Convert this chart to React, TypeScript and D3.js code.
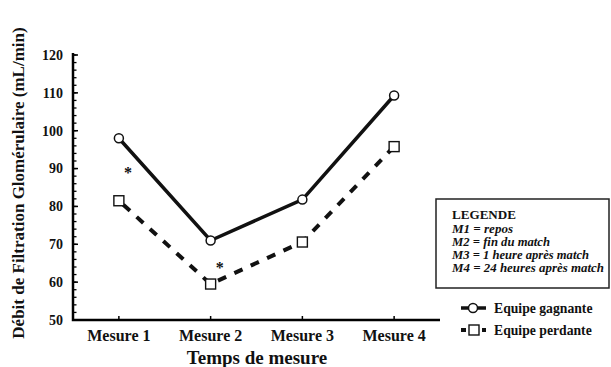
import React from "react";
import * as d3 from "d3";

const categories = ["Mesure 1", "Mesure 2", "Mesure 3", "Mesure 4"];
const gagnante = [98, 71, 81.8, 109.3];
const perdante = [81.5, 59.5, 70.6, 95.8];
const yTicks = [50, 60, 70, 80, 90, 100, 110, 120];
const minorTicks = d3.range(50, 121, 2);
const asterisks = [
  { cat: "Mesure 1", value: 90.5 },
  { cat: "Mesure 2", value: 65.5 },
];
const legendLines = [
  "M1 = repos",
  "M2 = fin du match",
  "M3 = 1 heure après match",
  "M4 = 24 heures après match",
];
const legendWidths = [61, 98, 137, 152];

const W = 611;
const H = 367;
const left = 73;
const right = 440;
const top = 55;
const bottom = 320;
const font = "'Liberation Serif', 'Times New Roman', serif";

export default function App() {
  const x = d3.scaleBand<string>().domain(categories).range([left, right]);
  const cx = (c: string) => (x(c) as number) + x.bandwidth() / 2;
  const y = d3.scaleLinear().domain([50, 120]).range([bottom, top]);
  const line = d3
    .line<number>()
    .x((_, i) => cx(categories[i]))
    .y((d) => y(d));

  return (
    <svg
      width={W}
      height={H}
      style={{ position: "absolute", left: 0, top: 0, background: "#fff" }}
      fontFamily={font}
    >
      <rect width={W} height={H} fill="#fff" />
      {minorTicks.map((t) => (
        <line key={"m" + t} x1={left} x2={left + 3.5} y1={y(t)} y2={y(t)} stroke="#000" strokeWidth={1.3} />
      ))}
      {yTicks.map((t) => (
        <g key={t}>
          <line x1={left} x2={left + 5} y1={y(t)} y2={y(t)} stroke="#000" strokeWidth={1.5} />
          <text x={left - 10} y={y(t)} dy="0.35em" textAnchor="end" fontSize={14} fontWeight="bold" fill="#111">
            {t}
          </text>
        </g>
      ))}
      {categories.map((c) => (
        <g key={c}>
          <line x1={cx(c)} x2={cx(c)} y1={bottom} y2={bottom - 4} stroke="#000" strokeWidth={1.5} />
          <text x={cx(c)} y={bottom + 21} textAnchor="middle" fontSize={16} fontWeight="bold" fill="#111">
            {c}
          </text>
        </g>
      ))}
      <path d={`M${left},${top - 2}V${bottom}H${right}`} fill="none" stroke="#000" strokeWidth={2.5} />
      <text x={257} y={364} textAnchor="middle" fontSize={19} fontWeight="bold" fill="#111">
        Temps de mesure
      </text>
      <text
        transform={`translate(24,183) rotate(-90)`}
        textAnchor="middle"
        fontSize={17}
        fontWeight="bold"
        fill="#111"
      >
        Débit de Filtration Glomérulaire (mL/min)
      </text>

      <path d={line(perdante) || ""} fill="none" stroke="#111" strokeWidth={4} strokeDasharray="9,9" strokeDashoffset={-6} />
      <path d={line(gagnante) || ""} fill="none" stroke="#111" strokeWidth={3.5} />
      {gagnante.map((v, i) => (
        <circle key={"g" + i} cx={cx(categories[i])} cy={y(v)} r={4.5} fill="#fff" stroke="#111" strokeWidth={1.5} />
      ))}
      {perdante.map((v, i) => (
        <rect
          key={"p" + i}
          x={cx(categories[i]) - 5}
          y={y(v) - 5}
          width={10}
          height={10}
          fill="#fff"
          stroke="#111"
          strokeWidth={1.4}
        />
      ))}
      {asterisks.map((a, i) => (
        <text key={"a" + i} x={cx(a.cat) + 9} y={y(a.value)} dy="0.7em" textAnchor="middle" fontSize={16} fontWeight="bold" fill="#111">
          *
        </text>
      ))}

      <rect x={436} y={199} width={173} height={89} fill="#fff" stroke="#222" strokeWidth={1.5} />
      <text x={452} y={219} fontSize={12} fontWeight="bold" fill="#111" textLength={64} lengthAdjust="spacingAndGlyphs">
        LEGENDE
      </text>
      {legendLines.map((l, i) => (
        <text
          key={l}
          x={452}
          y={232.5 + i * 13}
          fontSize={11.7}
          fontWeight="bold"
          fontStyle="italic"
          fill="#111"
          textLength={legendWidths[i]}
          lengthAdjust="spacingAndGlyphs"
        >
          {l}
        </text>
      ))}
      <g>
        <line x1={461} x2={486} y1={308} y2={308} stroke="#111" strokeWidth={3.5} />
        <circle cx={473} cy={308} r={4.5} fill="#fff" stroke="#111" strokeWidth={1.5} />
        <text x={494} y={308} dy="0.35em" fontSize={13.7} fontWeight="bold" fill="#111">
          Equipe gagnante
        </text>
        <line x1={461} x2={466} y1={330} y2={330} stroke="#111" strokeWidth={4} />
        <rect x={469} y={325} width={10} height={10} fill="#fff" stroke="#111" strokeWidth={1.4} />
        <line x1={482} x2={486} y1={330} y2={330} stroke="#111" strokeWidth={4} />
        <text x={494} y={330} dy="0.35em" fontSize={13.7} fontWeight="bold" fill="#111">
          Equipe perdante
        </text>
      </g>
    </svg>
  );
}
